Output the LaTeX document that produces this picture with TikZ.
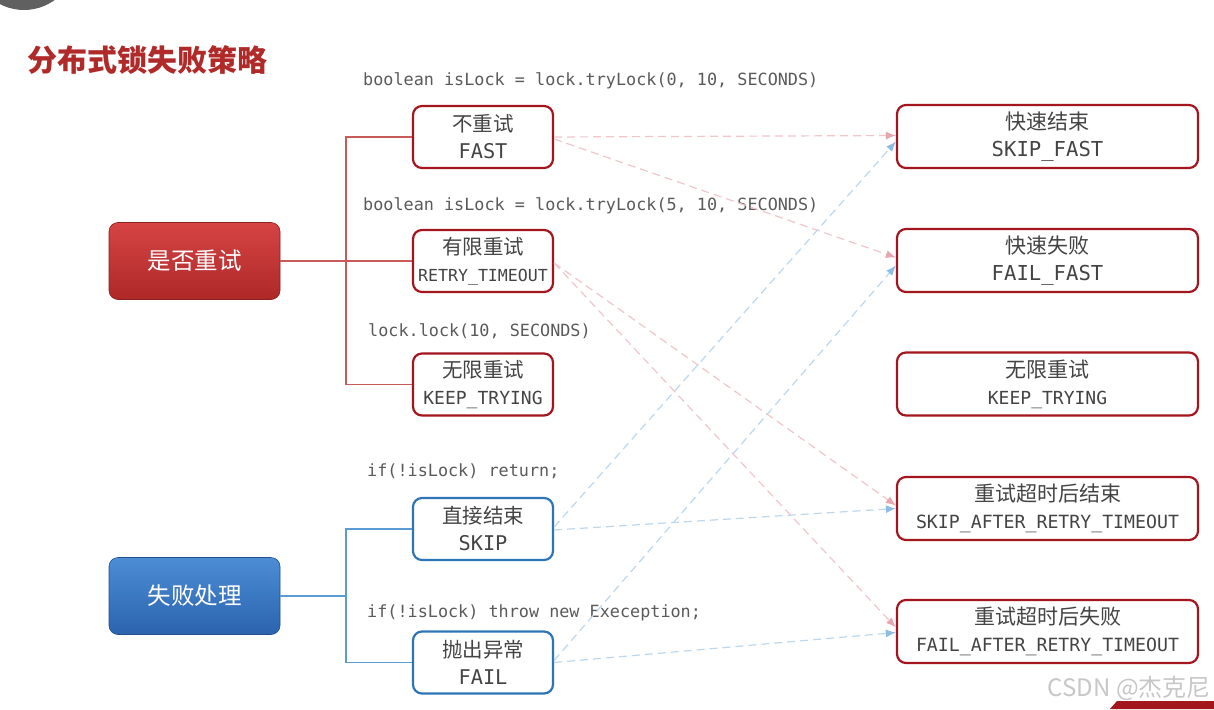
\documentclass[tikz,border=0pt]{standalone}
\usepackage{fontspec}
\setmainfont{Noto Sans CJK SC}
\newfontfamily\cjk{Noto Sans CJK SC}
\newfontfamily\code{DejaVu Sans Mono}
\usetikzlibrary{arrows.meta}
\definecolor{titlered}{HTML}{B02A2A}
\definecolor{boxred}{HTML}{A3161E}
\definecolor{boxblue}{HTML}{2E75B6}
\definecolor{treered}{HTML}{C85A5A}
\definecolor{treeblue}{HTML}{5B9BD5}
\definecolor{txtgray}{HTML}{444444}
\definecolor{codegray}{HTML}{5A5A5A}
\definecolor{pinkline}{HTML}{F0C6CB}
\definecolor{pinktip}{HTML}{E8A6B0}
\definecolor{blueline}{HTML}{BCD8EF}
\definecolor{bluetip}{HTML}{8EBDE4}
\definecolor{redtop}{HTML}{D64444}
\definecolor{redbot}{HTML}{AE2828}
\definecolor{bluetop}{HTML}{4C8DD6}
\definecolor{bluebot}{HTML}{2B63AE}
\tikzset{
  headbox/.style={rounded corners=9pt, minimum width=171pt, minimum height=77pt, inner sep=0pt,
    text=white, font=\cjk\fontsize{23.5}{28}\selectfont},
  redhead/.style={headbox, top color=redtop, bottom color=redbot, draw=redbot!80!black, line width=0.6pt},
  bluehead/.style={headbox, top color=bluetop, bottom color=bluebot, draw=bluebot!80!black, line width=0.6pt},
  midbox/.style={draw=boxred, line width=2.2pt, rounded corners=9pt, fill=white,
    minimum width=140pt, minimum height=62pt, inner sep=0pt, align=center, text=txtgray,
    font=\cjk\fontsize{20.5}{27}\selectfont},
  midblue/.style={midbox, draw=boxblue},
  rightbox/.style={midbox, minimum width=301pt, minimum height=63pt, font=\cjk\fontsize{21}{27}\selectfont},
  codelabel/.style={anchor=west, inner sep=0pt, text=codegray, font=\code\fontsize{16.8}{20}\selectfont},
  treer/.style={draw=treered, line width=1.2pt},
  treeb/.style={draw=treeblue, line width=1.2pt},
  pinkarrow/.style={draw=pinkline, line width=1.2pt, dash pattern=on 8pt off 5pt,
    -{Latex[length=10pt,width=8pt,fill=pinktip,color=pinktip]}},
  bluearrow/.style={draw=blueline, line width=1.2pt, dash pattern=on 8pt off 5pt,
    -{Latex[length=10pt,width=8pt,fill=bluetip,color=bluetip]}},
}
\begin{document}
\begin{tikzpicture}[x=1pt,y=-1pt]
\useasboundingbox (0,0) rectangle (1214,709);
\clip (0,0) rectangle (1214,709);
\fill[white] (0,0) rectangle (1214,709);
% top-left artifact
\fill[gray!75!black] (24,-42) circle (52);
% title
\node[anchor=west, inner sep=0pt, text=titlered, font=\cjk\bfseries\fontsize{30}{33}\selectfont] (title) at (27,60) {分布式锁失败策略};
% left heads
\node[redhead] (retryq) at (194.5,261) {是否重试};
\node[bluehead] (failh) at (194.5,596) {失败处理};
% middle boxes
\node[midbox] (fast) at (483,137) {不重试\\{\code\fontsize{20.3}{27}\selectfont FAST}};
\node[midbox] (retry) at (483,261) {有限重试\\{\code\fontsize{16.6}{27}\selectfont RETRY\_TIMEOUT}};
\node[midbox] (keep) at (483,384.5) {无限重试\\{\code\fontsize{18}{27}\selectfont KEEP\_TRYING}};
\node[midblue] (skip) at (483,529) {直接结束\\{\code\fontsize{20.3}{27}\selectfont SKIP}};
\node[midblue] (fail) at (483,662.5) {抛出异常\\{\code\fontsize{20.3}{27}\selectfont FAIL}};
% right boxes
\node[rightbox] (skipfast) at (1047.5,136.5) {快速结束\\{\code\fontsize{20.6}{27}\selectfont SKIP\_FAST}};
\node[rightbox] (failfast) at (1047.5,260.5) {快速失败\\{\code\fontsize{20.6}{27}\selectfont FAIL\_FAST}};
\node[rightbox] (keepr) at (1047.5,384) {无限重试\\{\code\fontsize{18}{27}\selectfont KEEP\_TRYING}};
\node[rightbox] (skipafter) at (1047.5,508.5) {重试超时后结束\\{\code\fontsize{18.2}{27}\selectfont SKIP\_AFTER\_RETRY\_TIMEOUT}};
\node[rightbox] (failafter) at (1047.5,631.5) {重试超时后失败\\{\code\fontsize{18.2}{27}\selectfont FAIL\_AFTER\_RETRY\_TIMEOUT}};
% code labels
\node[codelabel] (c1) at (363,81) {boolean isLock = lock.tryLock(0, 10, SECONDS)};
\node[codelabel] (c2) at (363,206) {boolean isLock = lock.tryLock(5, 10, SECONDS)};
\node[codelabel] (c3) at (368,331) {lock.lock(10, SECONDS)};
\node[codelabel] (c4) at (367,471) {if(!isLock) return;};
\node[codelabel] (c5) at (367,613) {if(!isLock) throw new Exeception;};
% tree lines
\coordinate (rj) at (346,261);
\coordinate (bj) at (346,596);
\draw[treer] (retryq.east) -- (retry.west);
\draw[treer] (fast.west) -- (fast.west -| rj) -- (keep.west -| rj) -- (keep.west);
\draw[treeb] (failh.east) -- (bj);
\draw[treeb] (skip.west) -- (skip.west -| bj) -- (fail.west -| bj) -- (fail.west);
% connectors
\draw[pinkarrow] ([yshift=0pt]fast.east) -- ([yshift=1pt]skipfast.west);
\draw[pinkarrow] ([yshift=-2pt]fast.east) -- ([yshift=3pt]failfast.west);
\draw[pinkarrow] ([yshift=-2pt]retry.east) -- ([yshift=3pt]skipafter.west);
\draw[pinkarrow] ([yshift=-2pt]retry.east) -- ([yshift=4pt]failafter.west);
\draw[bluearrow] ([yshift=2pt]skip.east) -- ([yshift=-5pt]skipfast.west);
\draw[bluearrow] ([yshift=-1pt]skip.east) -- ([yshift=0pt]skipafter.west);
\draw[bluearrow] ([yshift=2pt]fail.east) -- ([yshift=-5pt]failfast.west);
\draw[bluearrow] ([yshift=0pt]fail.east) -- ([yshift=-1pt]failafter.west);
% watermark and bottom-right artifact
\node[anchor=east, inner sep=0pt, text=black!22, font=\cjk\fontsize{24}{26}\selectfont] (wm) at (1211,688) {CSDN @杰克尼};
\fill[boxred] (1117,701) -- (1214,701) -- (1214,709) -- (1110,709) -- cycle;
\end{tikzpicture}
\end{document}
